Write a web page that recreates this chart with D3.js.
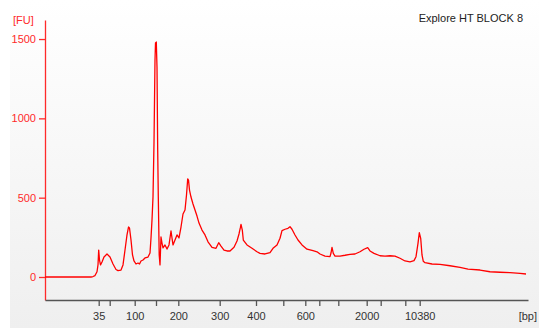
<!DOCTYPE html>
<html>
<head>
<meta charset="utf-8">
<script src="https://cdn.jsdelivr.net/npm/d3@7"></script>
<style>
  html, body { margin: 0; padding: 0; background: #ffffff; }
  svg { display: block; }
</style>
</head>
<body>
<svg id="chart" width="539" height="328"></svg>
<script>
// ---- Data ----
const title = "Explore HT BLOCK 8";
// Ladder fragments (bp) and their migration times (s)
const ladderBp   = [35, 50, 100, 150, 200, 300, 400, 500, 600, 700, 1000, 2000, 3000, 7000, 10380];
const ladderTime = [40.74, 42.94, 47.94, 52.2, 56.66, 64.94, 72.2, 77.66, 82.06, 84.86, 88.66, 94.34, 97.14, 102.06, 104.94];
const labeledBp  = [35, 100, 200, 300, 400, 600, 2000, 10380];
const yTicks     = [0, 500, 1000, 1500];

// Electropherogram trace: time (s) and fluorescence (FU)
const timeSec = [30, 39.2, 39.6, 40.0, 40.4, 40.6, 40.74, 40.9, 41.1, 41.4, 41.8, 42.4, 43.0, 43.6, 44.2, 44.6,
  45.2, 45.6, 46.0, 46.4, 46.7, 46.9, 47.2, 47.5, 47.8, 48.2, 48.6, 48.9, 49.2, 49.6, 50.0, 50.6, 51.0,
  51.2, 51.4, 51.6, 51.8, 52.0, 52.1, 52.26, 52.4, 52.54, 52.66, 52.84, 53.0, 53.2, 53.4, 53.6, 54.0,
  54.4, 54.8, 55.2, 55.4, 55.6, 56.0, 56.4, 56.8, 57.2, 57.6, 58.0, 58.3, 58.54, 58.7, 58.9, 59.2, 59.6,
  60.0, 60.4, 60.8, 61.4, 62.0, 62.6, 63.4, 64.2, 64.74, 65.2, 65.8, 66.4, 67.0, 67.8, 68.4, 68.8, 69.06,
  69.2, 69.46, 69.66, 70.4, 71.4, 72.4, 73.0, 74.0, 75.0, 75.6, 76.4, 77.0, 77.4, 78.0, 78.6, 79.0, 79.4,
  80.0, 80.6, 81.4, 82.4, 83.6, 84.4, 85.0, 86.0, 87.0, 87.2, 87.4, 87.66, 88.0, 89.0, 90.0, 91.0, 92.0,
  93.0, 93.8, 94.54, 95.0, 95.8, 97.0, 98.0, 99.0, 100.0, 101.0, 102.0, 103.0, 103.8, 104.2, 104.6,
  104.86, 105.14, 105.4, 105.66, 106.0, 107.4, 109.0, 111.0, 113.0, 114.6, 117.0, 119.0, 121.0, 123.0,
  125.0, 126.2];
const fu = [0, 0, 3, 9, 33, 76, 170, 107, 76, 95, 126, 145, 126, 82, 47, 40,
  44, 76, 170, 265, 315, 309, 233, 139, 101, 82, 88, 82, 101, 107, 120, 126, 151,
  246, 359, 504, 845, 1368, 1475, 1481, 1324, 800, 504, 139, 76, 252, 214, 183, 202,
  176, 202, 290, 246, 202, 233, 265, 246, 315, 397, 422, 517, 618, 611, 548, 504, 460,
  422, 384, 340, 296, 265, 222, 187, 181, 216, 195, 170, 164, 164, 187, 227, 271, 309,
  332, 296, 233, 202, 181, 159, 149, 145, 153, 181, 202, 244, 292, 301, 307, 317, 301,
  265, 233, 202, 175, 166, 159, 145, 132, 128, 151, 187, 149, 132, 132, 137, 143, 145,
  159, 175, 185, 164, 149, 134, 132, 134, 132, 118, 101, 96, 103, 128, 212,
  279, 244, 139, 99, 90, 82, 80, 71, 61, 50, 44, 33, 30, 27,
  23, 19];

// ---- Chart ----
const svg = d3.select("#chart");
const W = 539, H = 328;
const mLeft = 45, mRight = 528, mTop = 20, mBottom = 300;

const defs = svg.append("defs");
const grad = defs.append("linearGradient").attr("id", "bg").attr("x1", 0).attr("y1", 0).attr("x2", 0).attr("y2", 1);
grad.append("stop").attr("offset", "0%").attr("stop-color", "#ffffff");
grad.append("stop").attr("offset", "100%").attr("stop-color", "#efefef");
svg.append("rect").attr("x", 10).attr("y", 0).attr("width", W - 10).attr("height", H).attr("fill", "url(#bg)");

const x = d3.scaleLinear().domain([30, 126.6]).range([mLeft, mRight]);
const y = d3.scaleLinear().domain([-145, 1620]).range([mBottom, mTop]);

const red = "#ff2a2a";
const font = "'Liberation Sans', Arial, sans-serif";

// Y axis
const yAxis = svg.append("g").attr("transform", `translate(${mLeft},0)`)
  .call(d3.axisLeft(y).tickValues(yTicks).tickFormat(d3.format("d")).tickSize(6).tickPadding(3).tickSizeOuter(0));
yAxis.select(".domain").attr("stroke", red).attr("stroke-width", 1.3);
yAxis.selectAll(".tick line").attr("stroke", red).attr("stroke-width", 1.3);
yAxis.selectAll(".tick text").attr("fill", red).attr("font-family", font).attr("font-size", 11);

// X axis (time scale, labelled with ladder sizes)
const xAxis = svg.append("g").attr("transform", `translate(0,${mBottom})`)
  .call(d3.axisBottom(x).tickValues(ladderTime).tickSize(6).tickPadding(6).tickSizeOuter(0)
    .tickFormat((t, i) => labeledBp.includes(ladderBp[i]) ? String(ladderBp[i]) : ""));
xAxis.select(".domain").attr("stroke", "#555").attr("stroke-width", 1.3);
xAxis.selectAll(".tick line").attr("stroke", "#555").attr("stroke-width", 1.3);
xAxis.selectAll(".tick text").attr("fill", "#333").attr("font-family", font).attr("font-size", 11);

// Unit labels
svg.append("text").attr("x", 13).attr("y", 24).attr("fill", red)
  .attr("font-family", font).attr("font-size", 11).text("[FU]");
svg.append("text").attr("x", 537).attr("y", 320).attr("text-anchor", "end").attr("fill", "#333")
  .attr("font-family", font).attr("font-size", 11).text("[bp]");

// Title
svg.append("text").attr("x", 523).attr("y", 22).attr("text-anchor", "end").attr("fill", "#222")
  .attr("font-family", font).attr("font-size", 11).text(title);

// Trace
const pts = timeSec.map((t, i) => [t, fu[i]]);
svg.append("path").datum(pts)
  .attr("fill", "none").attr("stroke", "#ff0000").attr("stroke-width", 1.3)
  .attr("stroke-linejoin", "round")
  .attr("d", d3.line().x(d => x(d[0])).y(d => y(d[1])));
</script>
</body>
</html>
